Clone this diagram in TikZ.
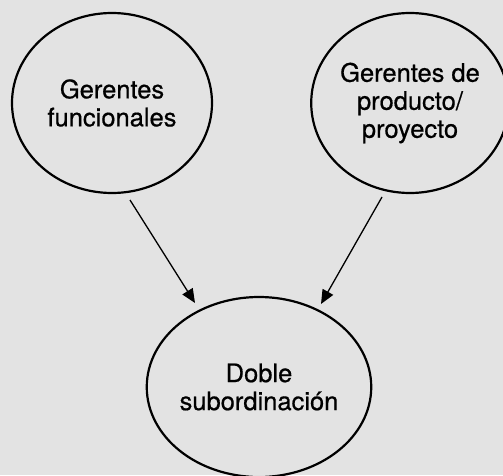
\documentclass[tikz,border=0pt]{standalone}
\usepackage{fontspec}
\setmainfont{TeX Gyre Heros}[FakeBold=0.6]
\usetikzlibrary{shapes.geometric,arrows.meta}
\begin{document}
\begin{tikzpicture}[x=1pt,y=1pt,
  bubble/.style={ellipse,draw,line width=2.2pt,minimum width=200pt,minimum height=180pt,inner sep=0pt,align=center,font=\fontsize{25.5}{28}\selectfont},
  link/.style={-{Triangle[length=14pt,width=12pt]},line width=1.3pt}]
\fill[black!11] (0,0) rectangle (503,475);
\useasboundingbox (0,0) rectangle (503,475);
\node[bubble] (f) at (112,372) {Gerentes\\funcionales};
\node[bubble,minimum width=194pt] (p) at (410,372) {Gerentes de\\producto/\\proyecto};
\node[bubble,minimum width=198pt] (d) at (259,88) {Doble\\subordinación};
\coordinate (f1) at (130,275);
\coordinate (d1) at (195,172);
\coordinate (p1) at (382,278);
\coordinate (d2) at (321,171);
\draw[link] (f1) -- (d1);
\draw[link] (p1) -- (d2);
\end{tikzpicture}
\end{document}
